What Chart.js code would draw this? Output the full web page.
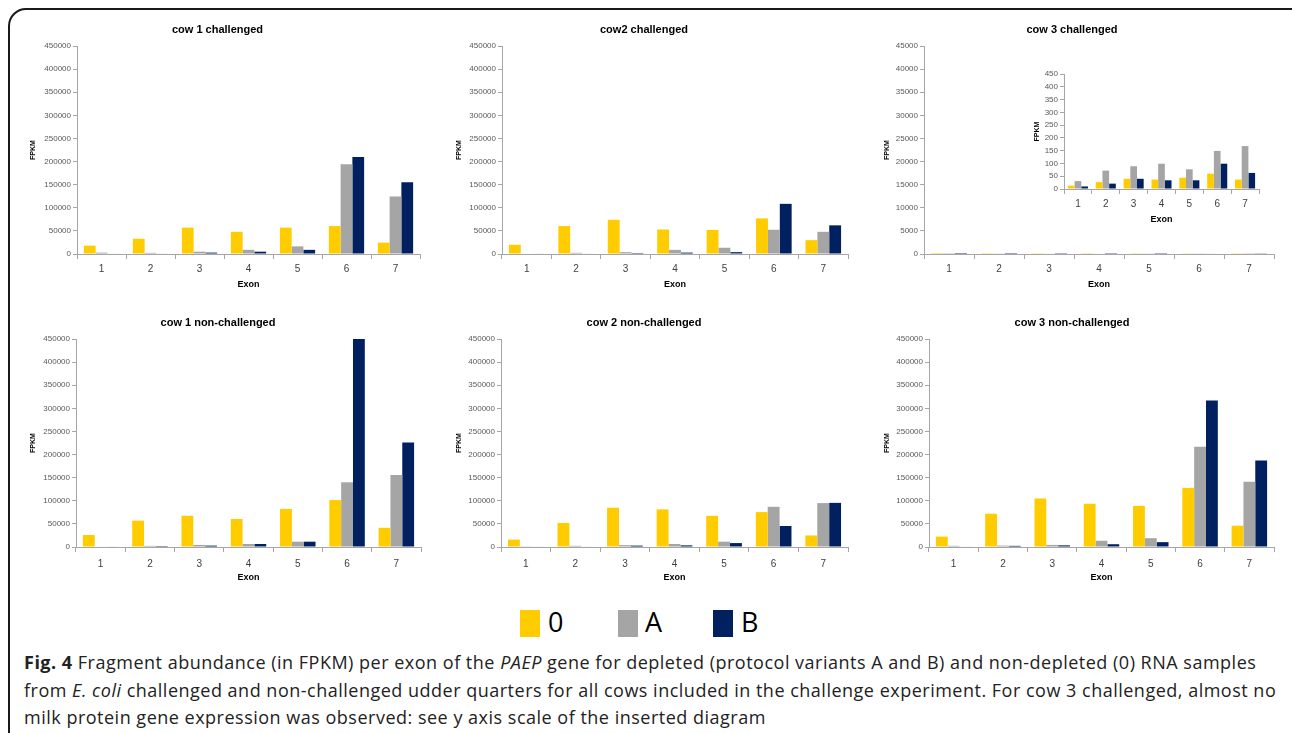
<!DOCTYPE html>
<html>
<head>
<meta charset="utf-8">
<script src="https://cdn.jsdelivr.net/npm/chart.js@4.4.1/dist/chart.umd.min.js"></script>
<style>
  body { margin: 0; background: #fff; width: 1292px; height: 733px; overflow: hidden; position: relative; font-family: 'Open Sans', sans-serif; }
  canvas { position: absolute; }
  #frame { position: absolute; left: 8px; top: 8px; width: 1300px; height: 800px; border: 2px solid #1a1a1a; border-radius: 18px; }
  .swatch { position: absolute; top: 610px; width: 20px; height: 27px; }
  .lbl { position: absolute; top: 603px; font-size: 27px; line-height: 38px; color: #000; }
  #caption { position: absolute; left: 24px; top: 649px; font-size: 18px; letter-spacing: 0.5px; line-height: 27.5px; color: #222; white-space: nowrap; }
</style>
</head>
<body>
<div id="frame"></div>

<div class="swatch" style="left:520px;background:#FFCC00"></div><span class="lbl" style="left:548px">0</span>
<div class="swatch" style="left:618px;background:#A5A5A5"></div><span class="lbl" style="left:645px">A</span>
<div class="swatch" style="left:713px;background:#002060"></div><span class="lbl" style="left:741px">B</span>

<div id="caption">
  <b>Fig. 4</b> Fragment abundance (in FPKM) per exon of the <i>PAEP</i> gene for depleted (protocol variants A and B) and non-depleted (0) RNA samples<br>
  from <i>E. coli</i> challenged and non-challenged udder quarters for all cows included in the challenge experiment. For cow 3 challenged, almost no<br>
  milk protein gene expression was observed: see y axis scale of the inserted diagram
</div>

<script>
const exons = ['1', '2', '3', '4', '5', '6', '7'];
const seriesNames = ['0', 'A', 'B'];
const seriesColors = ['#FFCC00', '#A5A5A5', '#002060'];

const yTicksMain = [0, 50000, 100000, 150000, 200000, 250000, 300000, 350000, 400000, 450000];
const yTicksCow3 = [0, 5000, 10000, 15000, 20000, 25000, 30000, 35000, 40000, 45000];
const yTicksInset = [0, 50, 100, 150, 200, 250, 300, 350, 400, 450];

// cow 1 challenged
const cow1cZero = [18000, 33000, 57000, 48000, 57000, 60500, 24500];
const cow1cA = [3000, 2500, 5000, 9000, 16500, 194000, 124500];
const cow1cB = [1000, 1000, 3000, 5000, 9000, 210000, 155000];
// cow2 challenged
const cow2cZero = [20000, 60500, 74000, 53000, 52000, 77000, 30000];
const cow2cA = [1000, 2500, 4000, 9000, 13500, 52500, 48000];
const cow2cB = [1000, 1000, 2000, 3000, 4000, 108500, 62000];
// cow 3 challenged (also the inset)
const cow3cZero = [13, 27, 40, 37, 44, 60, 37];
const cow3cA = [31, 72, 89, 99, 77, 149, 168];
const cow3cB = [10, 21, 40, 34, 34, 99, 63];
// cow 1 non-challenged
const cow1nZero = [26000, 57000, 67500, 60500, 82500, 101500, 41500];
const cow1nA = [1000, 2500, 4500, 6500, 11500, 140000, 156000];
const cow1nB = [1000, 2000, 3000, 6500, 11500, 450000, 226000];
// cow 2 non-challenged
const cow2nZero = [16000, 52000, 85000, 81500, 67500, 75500, 25000];
const cow2nA = [1500, 2500, 4000, 6500, 11500, 87000, 95000];
const cow2nB = [1000, 1000, 3000, 3500, 8500, 45500, 95500];
// cow 3 non-challenged
const cow3nZero = [22500, 72000, 105000, 93500, 89000, 128000, 46000];
const cow3nA = [2500, 3000, 4500, 13500, 19000, 217000, 141000];
const cow3nB = [1000, 2500, 3500, 6000, 10500, 317000, 187000];

const FONT = "'Liberation Sans', Arial, sans-serif";
const axisColor = '#A6A6A6';

function panel(cfg) {
  const c = document.createElement('canvas');
  c.width = cfg.x1 - cfg.x0;
  c.height = cfg.y1 - cfg.y0;
  c.style.left = cfg.x0 + 'px';
  c.style.top = cfg.y0 + 'px';
  document.body.appendChild(c);

  const [pl, pt, pr, pb] = cfg.plot;
  const yW = pl - cfg.x0;
  const xH = cfg.y1 - pb;
  let titleOpts = { display: false };
  let padTop = pt - cfg.y0;
  if (cfg.title) {
    const tTop = cfg.titleY - cfg.y0 - 6.6;
    titleOpts = {
      display: true, text: cfg.title, color: '#000',
      font: { family: FONT, size: 11, weight: 'bold' },
      padding: { top: tTop, bottom: pt - cfg.y0 - tTop - 13.2 }
    };
    padTop = 0;
  }

  new Chart(c, {
    type: 'bar',
    data: {
      labels: exons,
      datasets: cfg.values.map((v, i) => ({
        label: seriesNames[i],
        data: v,
        backgroundColor: seriesColors[i],
        borderWidth: 0,
        categoryPercentage: 0.72,
        barPercentage: 1
      }))
    },
    options: {
      responsive: false,
      animation: false,
      layout: { padding: { left: 0, right: cfg.x1 - pr, top: padTop, bottom: 0 } },
      plugins: {
        legend: { display: false },
        tooltip: { enabled: false },
        title: titleOpts
      },
      scales: {
        x: {
          grid: { display: true, drawOnChartArea: false, drawTicks: true, tickLength: 5, color: axisColor },
          border: { color: axisColor },
          ticks: { color: '#404040', font: { family: FONT, size: 10 }, padding: cfg.xPad || 4 },
          title: { display: true, text: 'Exon', color: '#000', font: { family: FONT, size: 9, weight: 'bold' }, padding: { top: 0, bottom: 2 } },
          afterFit: s => { s.height = xH; }
        },
        y: {
          min: 0,
          max: cfg.ticks[cfg.ticks.length - 1],
          ticks: { stepSize: cfg.ticks[1], callback: v => String(v), color: '#595959', font: { family: FONT, size: 8 }, padding: 2 },
          grid: { display: true, drawOnChartArea: false, drawTicks: true, tickLength: 4, color: axisColor },
          border: { color: axisColor },
          title: { display: true, text: 'FPKM', color: '#000', font: { family: FONT, size: 7, weight: 'bold' }, padding: { top: cfg.fpkmX - cfg.x0 - 4.2, bottom: 0 } },
          afterFit: s => { s.width = yW; }
        }
      }
    }
  });
}

// top row
panel({ x0: 15, x1: 431, y0: 12, y1: 292, plot: [77, 46, 420, 254], titleY: 30, fpkmX: 33,
  title: 'cow 1 challenged', ticks: yTicksMain, values: [cow1cZero, cow1cA, cow1cB] });
panel({ x0: 440, x1: 860, y0: 12, y1: 292, plot: [502, 46, 848, 254], titleY: 30, fpkmX: 459,
  title: 'cow2 challenged', ticks: yTicksMain, values: [cow2cZero, cow2cA, cow2cB] });
panel({ x0: 870, x1: 1284, y0: 12, y1: 292, plot: [924, 46, 1274, 254], titleY: 30, fpkmX: 887,
  title: 'cow 3 challenged', ticks: yTicksCow3, values: [cow3cZero, cow3cA, cow3cB] });

// bottom row
panel({ x0: 15, x1: 431, y0: 305, y1: 585, plot: [76, 339, 421, 547], titleY: 323, fpkmX: 33, xPad: 6,
  title: 'cow 1 non-challenged', ticks: yTicksMain, values: [cow1nZero, cow1nA, cow1nB] });
panel({ x0: 440, x1: 860, y0: 305, y1: 585, plot: [501, 339, 848, 547], titleY: 323, fpkmX: 459, xPad: 6,
  title: 'cow 2 non-challenged', ticks: yTicksMain, values: [cow2nZero, cow2nA, cow2nB] });
panel({ x0: 870, x1: 1284, y0: 305, y1: 585, plot: [929, 339, 1274, 547], titleY: 323, fpkmX: 887, xPad: 6,
  title: 'cow 3 non-challenged', ticks: yTicksMain, values: [cow3nZero, cow3nA, cow3nB] });

// inset for cow 3 challenged
panel({ x0: 1025, x1: 1265, y0: 60, y1: 227, plot: [1064, 74, 1259, 189], fpkmX: 1037,
  ticks: yTicksInset, values: [cow3cZero, cow3cA, cow3cB] });
</script>
</body>
</html>
